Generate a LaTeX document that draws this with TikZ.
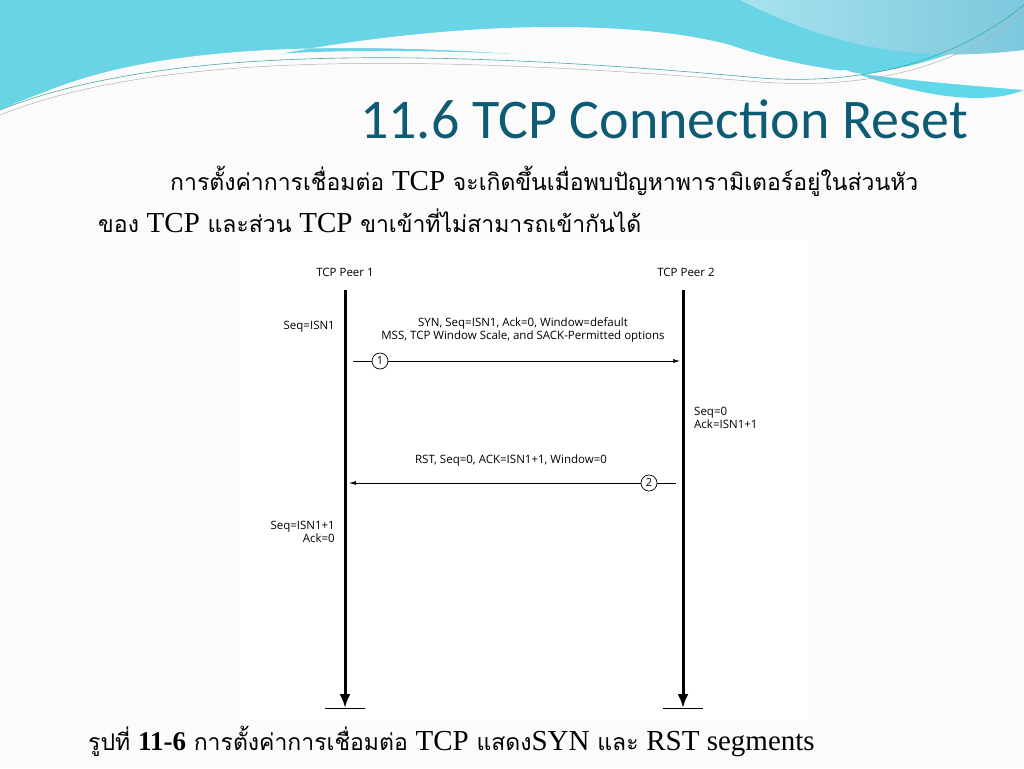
\documentclass[tikz,border=0pt]{standalone}
\usepackage{fontspec}
\setmainfont{Liberation Serif}
\newfontfamily\thaifont[Script=Thai]{Loma}
\newfontfamily\titlefont{Carlito}
\newfontfamily\figfont{Open Sans}
\usetikzlibrary{positioning}
\definecolor{titleblue}{HTML}{0E5C73}
\definecolor{swooshA}{HTML}{7CC8DD}
\definecolor{swooshB}{HTML}{5FD9EA}
\definecolor{swooshC}{HTML}{A8E2EE}
\newcommand{\latin}[1]{{\fontsize{29}{30}\selectfont\rmfamily #1}}
\tikzset{
  lbl/.style={font=\figfont\fontsize{11.5}{13.5}\selectfont, align=left, inner sep=1pt},
  lifeline/.style={line width=3pt, -{Latex[length=14pt,width=11pt]}},
  msg/.style={line width=0.7pt, -{Latex[length=7pt,width=4pt]}},
  stepnum/.style={circle, draw, line width=0.7pt, inner sep=0.5pt, minimum size=16pt, font=\figfont\fontsize{11}{11}\selectfont},
  thaitext/.style={font=\thaifont\fontsize{23}{30}\selectfont, anchor=base west, inner sep=0pt}
}
\usetikzlibrary{arrows.meta}
\begin{document}
\begin{tikzpicture}[x=1pt,y=-1pt]
    \useasboundingbox (0,0) rectangle (1024,768);
    \fill[white!97!gray] (0,0) rectangle (1024,768);

    % top swooshes
    \shade[left color=swooshA, right color=swooshB] (0,0) -- (700,0) .. controls (800,60) and (950,120) .. (1024,90) -- (1024,0) -- cycle;
    \fill[swooshB!70!swooshA] (0,0) -- (0,110) .. controls (150,40) and (400,40) .. (760,70) .. controls (900,80) and (980,40) .. (1024,20) -- (1024,0) -- cycle;
    \fill[white!97!gray] (0,115) .. controls (120,40) and (350,30) .. (740,75) .. controls (880,90) and (980,50) .. (1024,15) -- (1024,90) .. controls (900,80) and (800,70) .. (730,45) .. controls (600,10) and (300,20) .. (0,130) -- cycle;
    \shade[left color=swooshC, right color=swooshA] (740,0) .. controls (820,40) and (900,65) .. (1024,50) -- (1024,0) -- cycle;
    \draw[teal!70, line width=0.6pt] (0,110) .. controls (150,50) and (400,45) .. (760,78) .. controls (900,88) and (980,40) .. (1024,5);
    \draw[gray!60, line width=0.5pt] (0,115) .. controls (150,55) and (400,52) .. (760,82) .. controls (900,92) and (980,50) .. (1024,12);

    % title and body text
    \node[font=\titlefont\fontsize{56}{60}\selectfont, text=titleblue, anchor=base east, inner sep=0pt] (title) at (968,138) {11.6 TCP Connection Reset};
    \node[thaitext] (line1) at (170,190) {การตั้งค่าการเชื่อมต่อ \latin{TCP} จะเกิดขึ้นเมื่อพบปัญหาพารามิเตอร์อยู่ในส่วนหัว};
    \node[thaitext] (line2) at (98,232) {ของ \latin{TCP} และส่วน \latin{TCP} ขาเข้าที่ไม่สามารถเข้ากันได้};

    % figure
    \fill[white] (240,240) rectangle (808,720);
    \node[lbl] (peerA) at (345,272) {TCP Peer 1};
    \node[lbl] (peerB) at (686,272) {TCP Peer 2};
    \coordinate (topA) at (345,290);
    \coordinate (botA) at (345,708);
    \coordinate (topB) at (683,290);
    \coordinate (botB) at (683,708);
    \draw[lifeline] (topA) -- (botA);
    \draw[lifeline] (topB) -- (botB);
    \coordinate (baseAl) at (325,708);
    \coordinate (baseAr) at (365,708);
    \coordinate (baseBl) at (663,708);
    \coordinate (baseBr) at (703,708);
    \draw[line width=0.7pt] (baseAl) -- (baseAr);
    \draw[line width=0.7pt] (baseBl) -- (baseBr);

    \node[lbl, anchor=east] (seqA) at (336,327) {Seq=ISN1};
    \node[lbl, align=center] (synlbl) at (523,330) {SYN, Seq=ISN1, Ack=0, Window=default\\MSS, TCP Window Scale, and SACK-Permitted options};
    \node[stepnum] (one) at (380,361) {1};
    \coordinate (oneL) at (353,361);
    \coordinate (synend) at (680,361);
    \draw[line width=0.7pt] (oneL) -- (one);
    \draw[msg] (one) -- (synend);

    \node[lbl, anchor=west] (seqB) at (693,418) {Seq=0\\Ack=ISN1+1};
    \node[lbl] (rstlbl) at (511,461) {RST, Seq=0, ACK=ISN1+1, Window=0};
    \node[stepnum] (two) at (649,483) {2};
    \coordinate (twoR) at (676,483);
    \coordinate (rstend) at (349,483);
    \draw[line width=0.7pt] (twoR) -- (two);
    \draw[msg] (two) -- (rstend);

    \node[lbl, anchor=east, align=right] (seqA2) at (336,532) {Seq=ISN1+1\\Ack=0};

    % caption
    \node[thaitext] (caption) at (88,750) {รูปที่ {\fontsize{27}{30}\selectfont\rmfamily\bfseries 11-6} การตั้งค่าการเชื่อมต่อ \latin{TCP} แสดง\latin{SYN} และ \latin{RST segments}};
\end{tikzpicture}
\end{document}
